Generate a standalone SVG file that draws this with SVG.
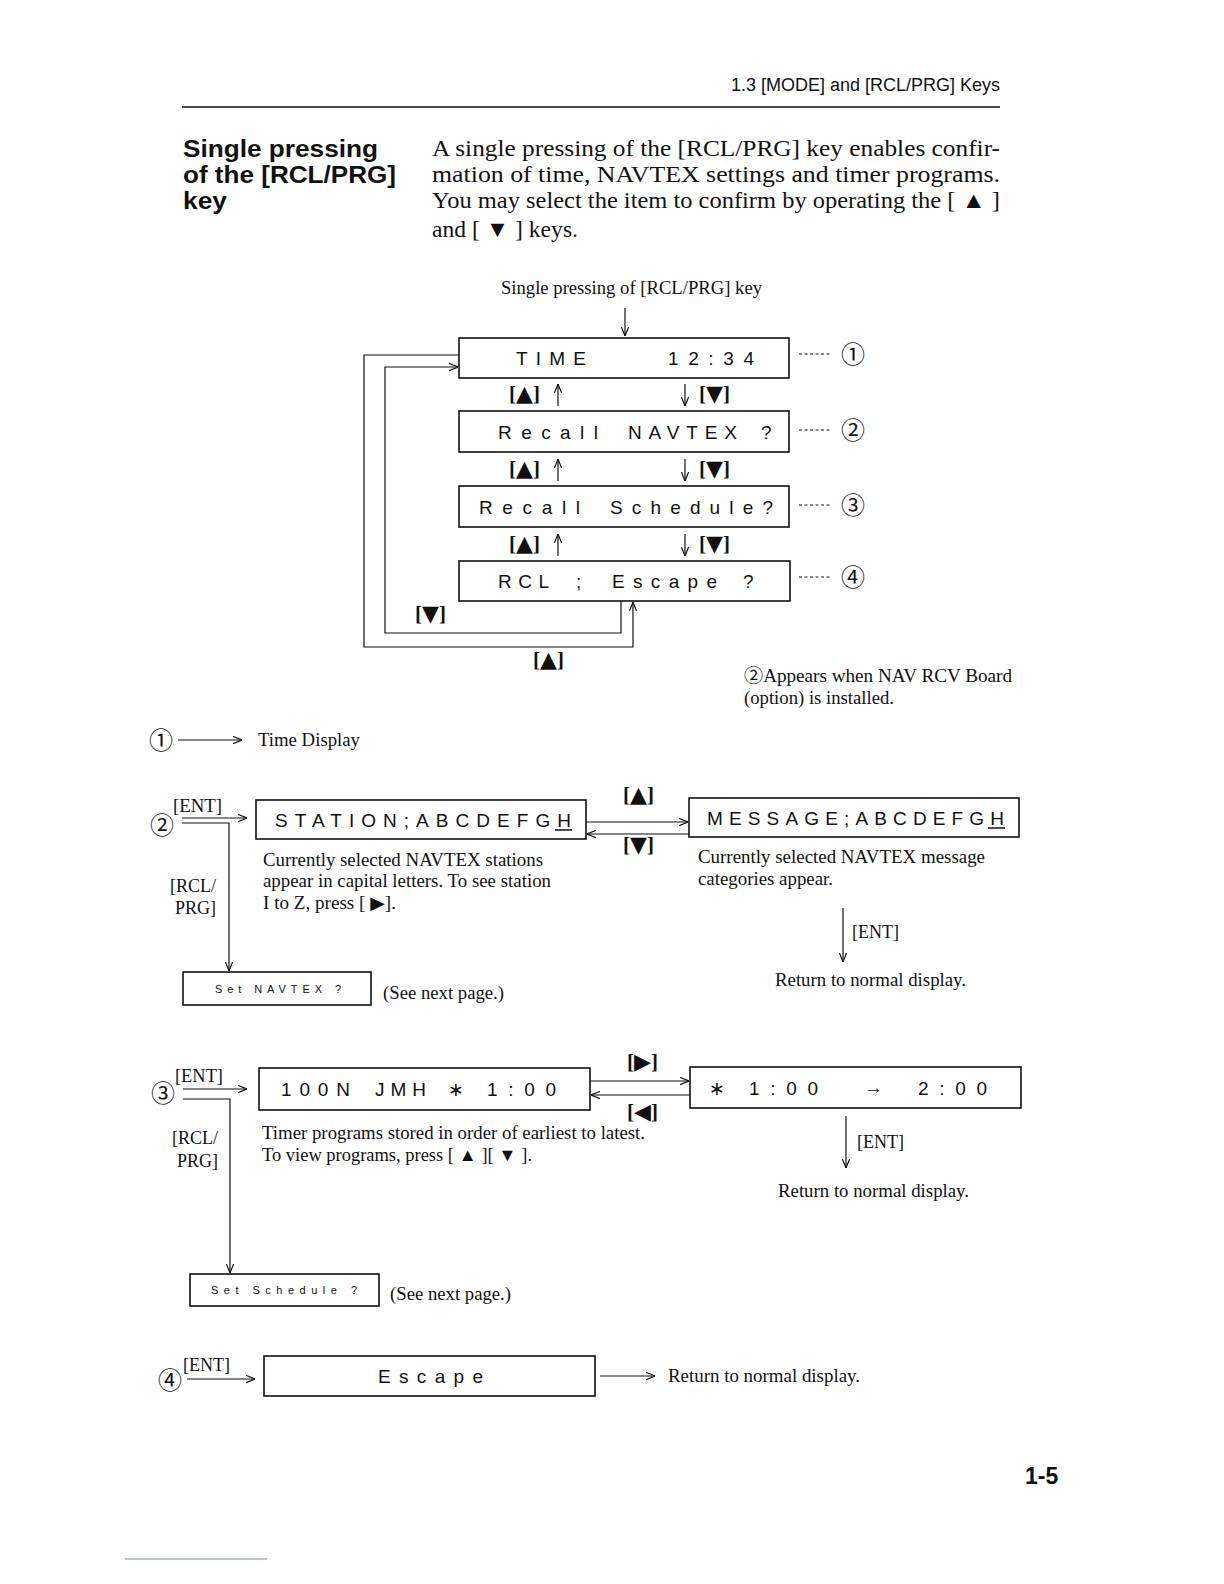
<svg xmlns="http://www.w3.org/2000/svg" width="1224" height="1584" viewBox="0 0 1224 1584">
<defs>
<style>
.bg{fill:#fff}
.box{fill:#fff;stroke:#111;stroke-width:1.6}
.ln{fill:none;stroke:#111;stroke-width:1.2}
.dash{fill:none;stroke:#111;stroke-width:1.2;stroke-dasharray:3,2.5}
.lcd{font-family:"Liberation Sans","DejaVu Sans",sans-serif;font-size:19px;fill:#111}
.lcds{font-family:"Liberation Sans","DejaVu Sans",sans-serif;font-size:11px;fill:#111}
.ser{font-family:"Liberation Serif","DejaVu Serif",serif;font-size:18px;fill:#111}
.par{font-family:"Liberation Serif","DejaVu Serif",serif;font-size:23px;fill:#111}
.key{font-family:"Liberation Serif","DejaVu Sans",serif;font-size:21px;fill:#111;font-weight:bold}
.tri{font-family:"DejaVu Sans",sans-serif;font-size:22px}
.circ{font-family:"Noto Sans CJK JP","DejaVu Sans",sans-serif;font-size:24px;fill:#111}
.ttl{font-family:"Liberation Sans","DejaVu Sans",sans-serif;font-size:23px;font-weight:bold;fill:#111}
.hdr{font-family:"Liberation Sans","DejaVu Sans",sans-serif;font-size:18px;fill:#111}
</style>
<marker id="ah" viewBox="0 0 10 10" refX="10" refY="5" markerWidth="9" markerHeight="9" orient="auto" markerUnits="userSpaceOnUse"><path d="M0,1 L10,5 L0,9" fill="none" stroke="#111" stroke-width="1.3"/></marker>
</defs>
<rect class="bg" x="0" y="0" width="1224" height="1584"/>

<g id="header">
<text class="hdr" x="1000" y="91" text-anchor="end">1.3 [MODE] and [RCL/PRG] Keys</text>
<line x1="182" y1="107" x2="1000" y2="107" stroke="#111" stroke-width="1.6"/>
</g>

<g id="title">
<text class="ttl" x="183" y="157" textLength="195" lengthAdjust="spacingAndGlyphs">Single pressing</text>
<text class="ttl" x="183" y="183" textLength="213" lengthAdjust="spacingAndGlyphs">of the [RCL/PRG]</text>
<text class="ttl" x="183" y="209" textLength="44" lengthAdjust="spacingAndGlyphs">key</text>
</g>

<g id="paragraph">
<text class="par" x="432" y="156" textLength="568" lengthAdjust="spacingAndGlyphs">A single pressing of the [RCL/PRG] key enables confir-</text>
<text class="par" x="432" y="182" textLength="568" lengthAdjust="spacingAndGlyphs">mation of time, NAVTEX settings and timer programs.</text>
<text class="par" x="432" y="208" textLength="568" lengthAdjust="spacingAndGlyphs">You may select the item to confirm by operating the [ ▲ ]</text>
<text class="par" x="432" y="237" textLength="146" lengthAdjust="spacingAndGlyphs">and [ ▼ ] keys.</text>
</g>

<text class="ser" x="501" y="294" textLength="261" lengthAdjust="spacingAndGlyphs">Single pressing of [RCL/PRG] key</text>

<g id="connectors">
<line class="ln" x1="625" y1="308" x2="625" y2="336" marker-end="url(#ah)"/>
<line class="ln" x1="558" y1="406" x2="558" y2="384" marker-end="url(#ah)"/>
<line class="ln" x1="685" y1="384" x2="685" y2="406" marker-end="url(#ah)"/>
<line class="ln" x1="558" y1="481" x2="558" y2="459" marker-end="url(#ah)"/>
<line class="ln" x1="685" y1="459" x2="685" y2="481" marker-end="url(#ah)"/>
<line class="ln" x1="558" y1="556" x2="558" y2="534" marker-end="url(#ah)"/>
<line class="ln" x1="685" y1="534" x2="685" y2="556" marker-end="url(#ah)"/>
<polyline class="ln" points="459,355 364,355 364,647 633,647 633,602" marker-end="url(#ah)"/>
<polyline class="ln" points="621,601 621,633 385,633 385,367 458,367" marker-end="url(#ah)"/>
<line class="dash" x1="799" y1="354" x2="830" y2="354"/>
<line class="dash" x1="799" y1="430" x2="830" y2="430"/>
<line class="dash" x1="799" y1="505" x2="830" y2="505"/>
<line class="dash" x1="799" y1="577" x2="830" y2="577"/>
<line class="ln" x1="178" y1="740" x2="242" y2="740" marker-end="url(#ah)"/>
<line class="ln" x1="182" y1="818" x2="247" y2="818" marker-end="url(#ah)"/>
<polyline class="ln" points="182,823 229,823 229,971" marker-end="url(#ah)"/>
<line class="ln" x1="586" y1="822" x2="688" y2="822" marker-end="url(#ah)"/>
<line class="ln" x1="689" y1="834" x2="587" y2="834" marker-end="url(#ah)"/>
<line class="ln" x1="843" y1="908" x2="843" y2="962" marker-end="url(#ah)"/>
<line class="ln" x1="183" y1="1089" x2="247" y2="1089" marker-end="url(#ah)"/>
<polyline class="ln" points="183,1099 230,1099 230,1273" marker-end="url(#ah)"/>
<line class="ln" x1="590" y1="1081" x2="689" y2="1081" marker-end="url(#ah)"/>
<line class="ln" x1="690" y1="1095" x2="591" y2="1095" marker-end="url(#ah)"/>
<line class="ln" x1="846" y1="1116" x2="846" y2="1168" marker-end="url(#ah)"/>
<line class="ln" x1="187" y1="1379" x2="255" y2="1379" marker-end="url(#ah)"/>
<line class="ln" x1="600" y1="1376" x2="655" y2="1376" marker-end="url(#ah)"/>
</g>

<g id="labels-main">
<text class="key" x="509" y="401">[<tspan class="tri">▲</tspan>]</text>
<text class="key" x="699" y="401">[<tspan class="tri">▼</tspan>]</text>
<text class="key" x="509" y="476">[<tspan class="tri">▲</tspan>]</text>
<text class="key" x="699" y="476">[<tspan class="tri">▼</tspan>]</text>
<text class="key" x="509" y="551">[<tspan class="tri">▲</tspan>]</text>
<text class="key" x="699" y="551">[<tspan class="tri">▼</tspan>]</text>
<text class="key" x="415" y="621">[<tspan class="tri">▼</tspan>]</text>
<text class="key" x="533" y="667">[<tspan class="tri">▲</tspan>]</text>
<text class="circ" x="853" y="363" text-anchor="middle">①</text>
<text class="circ" x="853" y="439" text-anchor="middle">②</text>
<text class="circ" x="853" y="514" text-anchor="middle">③</text>
<text class="circ" x="853" y="586" text-anchor="middle">④</text>
</g>

<g id="node-time">
<rect class="box" x="459" y="338" width="330" height="40"/>
<text class="lcd" x="516" y="365" textLength="70" lengthAdjust="spacing">TIME</text>
<text class="lcd" x="668" y="365" textLength="86" lengthAdjust="spacing">12:34</text>
</g>
<g id="node-recall-navtex">
<rect class="box" x="459" y="411" width="330" height="41"/>
<text class="lcd" x="498" y="439" textLength="100" lengthAdjust="spacing">Recall</text>
<text class="lcd" x="628" y="439" textLength="109" lengthAdjust="spacing">NAVTEX</text>
<text class="lcd" x="761" y="439">?</text>
</g>
<g id="node-recall-schedule">
<rect class="box" x="459" y="486" width="330" height="41"/>
<text class="lcd" x="479" y="514" textLength="101" lengthAdjust="spacing">Recall</text>
<text class="lcd" x="610" y="514" textLength="163" lengthAdjust="spacing">Schedule?</text>
</g>
<g id="node-rcl-escape">
<rect class="box" x="459" y="561" width="331" height="40"/>
<text class="lcd" x="498" y="588" textLength="51" lengthAdjust="spacing">RCL</text>
<text class="lcd" x="576" y="588">;</text>
<text class="lcd" x="612" y="588" textLength="105" lengthAdjust="spacing">Escape</text>
<text class="lcd" x="743" y="588">?</text>
</g>

<g id="note">
<text class="ser" x="744" y="682" textLength="268" lengthAdjust="spacingAndGlyphs"><tspan font-family="Noto Sans CJK JP, DejaVu Sans, sans-serif">②</tspan>Appears when NAV RCV Board</text>
<text class="ser" x="744" y="704" textLength="150" lengthAdjust="spacingAndGlyphs">(option) is installed.</text>
</g>

<g id="time-display">
<text class="circ" x="161" y="749" text-anchor="middle">①</text>
<text class="ser" x="258" y="746" textLength="102" lengthAdjust="spacingAndGlyphs">Time Display</text>
</g>

<g id="section2">
<text class="circ" x="162" y="834" text-anchor="middle">②</text>
<text class="ser" x="173" y="812" textLength="49" lengthAdjust="spacingAndGlyphs">[ENT]</text>
<text class="ser" x="216" y="892" text-anchor="end">[RCL/</text>
<text class="ser" x="216" y="914" text-anchor="end">PRG]</text>
<text class="key" x="623" y="802">[<tspan class="tri">▲</tspan>]</text>
<text class="key" x="623" y="852">[<tspan class="tri">▼</tspan>]</text>
<text class="ser" x="263" y="866" textLength="280" lengthAdjust="spacingAndGlyphs">Currently selected NAVTEX stations</text>
<text class="ser" x="263" y="887" textLength="288" lengthAdjust="spacingAndGlyphs">appear in capital letters. To see station</text>
<text class="ser" x="263" y="909" textLength="133" lengthAdjust="spacingAndGlyphs">I to Z, press [ ▶].</text>
<text class="ser" x="698" y="863" textLength="287" lengthAdjust="spacingAndGlyphs">Currently selected NAVTEX message</text>
<text class="ser" x="698" y="885" textLength="135" lengthAdjust="spacingAndGlyphs">categories appear.</text>
<text class="ser" x="852" y="938">[ENT]</text>
<text class="ser" x="775" y="986" textLength="191" lengthAdjust="spacingAndGlyphs">Return to normal display.</text>
<text class="ser" x="383" y="999" textLength="121" lengthAdjust="spacingAndGlyphs">(See next page.)</text>
</g>
<g id="node-station">
<rect class="box" x="256" y="800" width="330" height="39"/>
<text class="lcd" x="275" y="827" textLength="296" lengthAdjust="spacing">STATION;ABCDEFGH</text>
<line x1="555" y1="830" x2="572" y2="830" stroke="#111" stroke-width="1.5"/>
</g>
<g id="node-message">
<rect class="box" x="689" y="798" width="330" height="39"/>
<text class="lcd" x="707" y="825" textLength="297" lengthAdjust="spacing">MESSAGE;ABCDEFGH</text>
<line x1="988" y1="828" x2="1005" y2="828" stroke="#111" stroke-width="1.5"/>
</g>
<g id="node-set-navtex">
<rect class="box" x="183" y="972" width="188" height="33"/>
<text class="lcds" x="215" y="993" textLength="126" lengthAdjust="spacing">Set  NAVTEX  ?</text>
</g>

<g id="section3">
<text class="circ" x="163" y="1102" text-anchor="middle">③</text>
<text class="ser" x="175" y="1082" textLength="48" lengthAdjust="spacingAndGlyphs">[ENT]</text>
<text class="ser" x="218" y="1144" text-anchor="end">[RCL/</text>
<text class="ser" x="218" y="1167" text-anchor="end">PRG]</text>
<text class="key" x="627" y="1069">[<tspan class="tri">▶</tspan>]</text>
<text class="key" x="627" y="1119">[<tspan class="tri">◀</tspan>]</text>
<text class="ser" x="262" y="1139" textLength="383" lengthAdjust="spacingAndGlyphs">Timer programs stored in order of earliest to latest.</text>
<text class="ser" x="262" y="1161" textLength="270" lengthAdjust="spacingAndGlyphs">To view programs, press [ ▲ ][ ▼ ].</text>
<text class="ser" x="857" y="1148">[ENT]</text>
<text class="ser" x="778" y="1197" textLength="191" lengthAdjust="spacingAndGlyphs">Return to normal display.</text>
<text class="ser" x="390" y="1300" textLength="121" lengthAdjust="spacingAndGlyphs">(See next page.)</text>
</g>
<g id="node-100n">
<rect class="box" x="259" y="1068" width="331" height="42"/>
<text class="lcd" x="281" y="1096" textLength="69" lengthAdjust="spacing">100N</text>
<text class="lcd" x="375" y="1096" textLength="51" lengthAdjust="spacing">JMH</text>
<text class="lcd" x="448" y="1096">∗</text>
<text class="lcd" x="487" y="1096" textLength="69" lengthAdjust="spacing">1:00</text>
</g>
<g id="node-time-range">
<rect class="box" x="690" y="1067" width="331" height="41"/>
<text class="lcd" x="709" y="1095">∗</text>
<text class="lcd" x="749" y="1095" textLength="69" lengthAdjust="spacing">1:00</text>
<text class="lcd" x="864" y="1094" font-size="15">→</text>
<text class="lcd" x="918" y="1095" textLength="69" lengthAdjust="spacing">2:00</text>
</g>
<g id="node-set-schedule">
<rect class="box" x="190" y="1274" width="189" height="32"/>
<text class="lcds" x="211" y="1294" textLength="146" lengthAdjust="spacing">Set  Schedule  ?</text>
</g>

<g id="section4">
<text class="circ" x="170" y="1389" text-anchor="middle">④</text>
<text class="ser" x="183" y="1371" textLength="47" lengthAdjust="spacingAndGlyphs">[ENT]</text>
<text class="ser" x="668" y="1382" textLength="192" lengthAdjust="spacingAndGlyphs">Return to normal display.</text>
</g>
<g id="node-escape">
<rect class="box" x="264" y="1356" width="331" height="40"/>
<text class="lcd" x="378" y="1383" textLength="105" lengthAdjust="spacing">Escape</text>
</g>

<text class="ttl" x="1025" y="1484" font-size="22">1-5</text>
<line x1="125" y1="1559" x2="267" y2="1559" stroke="#7a86c8" stroke-width="1.2"/>
</svg>
